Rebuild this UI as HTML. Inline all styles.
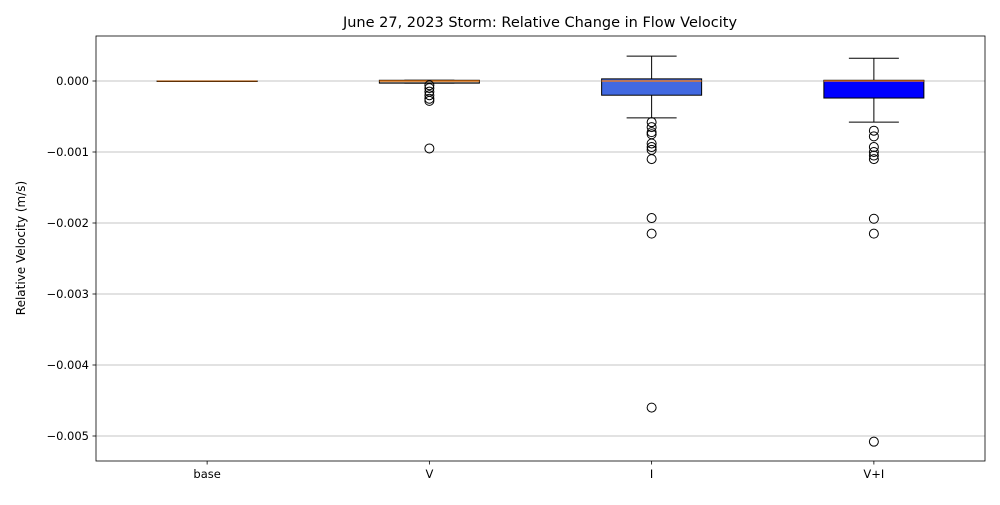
<!DOCTYPE html>
<html><head><meta charset="utf-8"><style>
body{margin:0;background:#fff;font-family:"Liberation Sans",sans-serif;}
svg text{font-family:"DejaVu Sans","Liberation Sans",sans-serif;}
</style></head><body>
<svg id="chart" width="1000" height="500">
<text x="540" y="27" font-size="14.5" text-anchor="middle">June 27, 2023 Storm: Relative Change in Flow Velocity</text>
<text transform="translate(25,248) rotate(-90)" font-size="12" text-anchor="middle">Relative Velocity (m/s)</text>
<g id="grid"></g><g id="boxes"></g><g id="axes"></g>
</svg>
<script>
const categories=["base","V","I","V+I"];
const q1=[0,-0.00003,-0.0002,-0.00024];
const q3=[0,0.00001,0.00003,0.00001];
const medians=[0,0,0,0];
const whiskLo=[0,-0.00003,-0.00052,-0.00058];
const whiskHi=[0,0.00001,0.00035,0.00032];
const outliers=[[],[-0.00006,-0.0001,-0.00015,-0.0002,-0.00025,-0.00028,-0.00095],
[-0.00058,-0.00065,-0.00072,-0.00075,-0.00088,-0.00093,-0.00097,-0.0011,-0.00193,-0.00215,-0.0046],
[-0.0007,-0.00078,-0.00093,-0.001,-0.00105,-0.0011,-0.00194,-0.00215,-0.00508]];
const fills=["#d2b48c","#a0a0a0","#4169e1","#0000ff"];
const yTicks=[0,-0.001,-0.002,-0.003,-0.004,-0.005];
const yTickLabels=["0.000","\u22120.001","\u22120.002","\u22120.003","\u22120.004","\u22120.005"];
const L=96,R=985,T=36,B=461;
const y=v=>81-v*71000;
const x=i=>L+(i+0.5)*(R-L)/categories.length;
const NS="http://www.w3.org/2000/svg";
function mk(t,a,p){const e=document.createElementNS(NS,t);for(const k in a)e.setAttribute(k,a[k]);p.appendChild(e);return e;}
const grid=document.getElementById('grid'),boxes=document.getElementById('boxes'),axes=document.getElementById('axes');
yTicks.forEach((v,i)=>{
 const g=mk('line',{x1:L,x2:R,y1:y(v),y2:y(v),stroke:'#b0b0b0','stroke-width':0.8},grid);
 
 
 mk('line',{x1:L-3.5,x2:L,y1:y(v),y2:y(v),stroke:'#000','stroke-width':0.8},axes);
 const t=mk('text',{x:L-7,y:y(v)+4,'font-size':11.5,'text-anchor':'end'},axes);t.textContent=yTickLabels[i];
 
 
});
categories.forEach((c,i)=>{
 const cx=x(i),g=mk('g',{},boxes);
 
 
 const k={stroke:'#000','stroke-width':1};
 mk('line',Object.assign({x1:cx,x2:cx,y1:y(q3[i]),y2:y(whiskHi[i])},k),g);
 mk('line',Object.assign({x1:cx,x2:cx,y1:y(q1[i]),y2:y(whiskLo[i])},k),g);
 mk('line',Object.assign({x1:cx-25,x2:cx+25,y1:y(whiskHi[i]),y2:y(whiskHi[i])},k),g);
 mk('line',Object.assign({x1:cx-25,x2:cx+25,y1:y(whiskLo[i]),y2:y(whiskLo[i])},k),g);
 mk('rect',{x:cx-50,y:y(q3[i]),width:100,height:Math.max(0.5,y(q1[i])-y(q3[i])),fill:fills[i],stroke:'#000','stroke-width':1},g);
 mk('line',{x1:cx-50,x2:cx+50,y1:y(medians[i]),y2:y(medians[i]),stroke:'#ff7f0e','stroke-width':1.2,opacity:i==0?0.6:1},g);
 outliers[i].forEach(v=>{const o=mk('circle',{cx:cx,cy:y(v),r:4.5,fill:'none',stroke:'#000','stroke-width':1},g);
  
  });
 mk('line',{x1:cx,x2:cx,y1:B,y2:B+3.5,stroke:'#000','stroke-width':0.8},axes);
 const t=mk('text',{x:cx,y:B+17,'font-size':11.5,'text-anchor':'middle'},axes);t.textContent=c;
 
 
});
const f=mk('rect',{x:L,y:T,width:R-L,height:B-T,fill:'none',stroke:'#000','stroke-width':0.8},axes);


</script>
</body></html>
